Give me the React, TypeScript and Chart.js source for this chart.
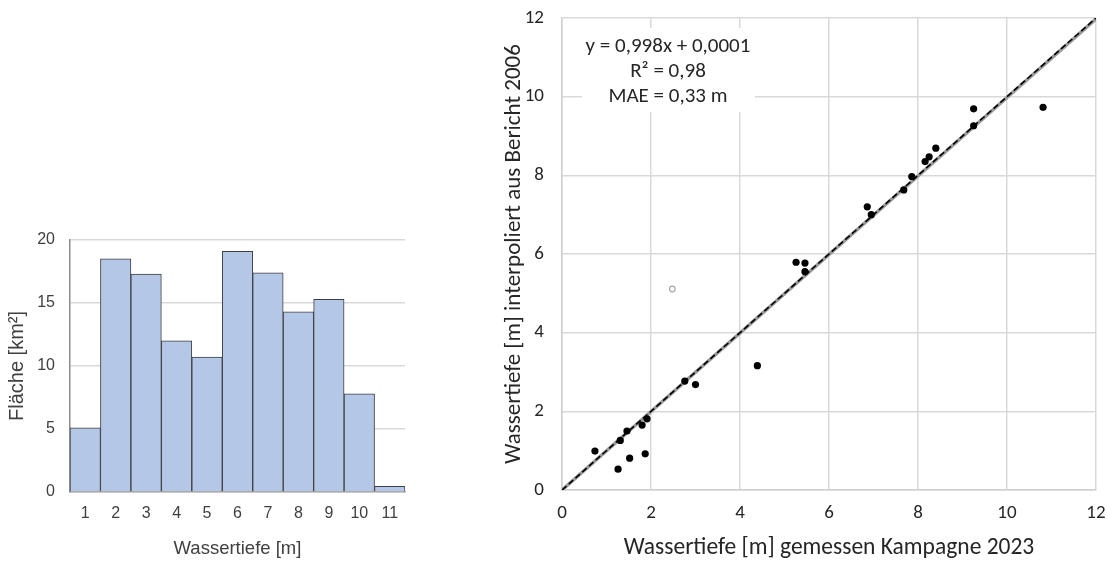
import React, { useEffect, useRef } from 'react';
import { Chart, registerables } from 'chart.js';

Chart.register(...registerables);

// ---------- Histogram data ----------
const depthBins = ['1', '2', '3', '4', '5', '6', '7', '8', '9', '10', '11'];
const areaKm2 = [5.1, 18.5, 17.3, 12.0, 10.7, 19.1, 17.4, 14.3, 15.3, 7.8, 0.45];

// ---------- Scatter data ----------
const measured2023 = [
  0.74, 1.26, 1.31, 1.46, 1.52, 1.80, 1.87, 1.91, 2.76, 3.0, 4.39,
  5.26, 5.46, 5.46, 6.86, 6.95, 7.68, 7.86, 8.16, 8.25, 8.40, 9.25, 9.25, 10.81,
];
const interpolated2006 = [
  0.99, 0.53, 1.26, 1.50, 0.81, 1.65, 0.92, 1.81, 2.77, 2.68, 3.16,
  5.79, 5.77, 5.55, 7.20, 7.00, 7.63, 7.97, 8.35, 8.47, 8.69, 9.69, 9.26, 9.73,
];
const excludedMeasured = [2.48];
const excludedInterpolated = [5.11];
const trendX = [0, 12];
const trendY = [0.0001, 11.9761];
const identityX = [0, 12];
const identityY = [0, 12];
const annotationLines = ['y = 0,998x + 0,0001', 'R² = 0,98', 'MAE = 0,33 m'];

const zip = (xs: number[], ys: number[]) => xs.map((x, i) => ({ x, y: ys[i] }));

const HIST_FONT = '"Liberation Sans", Arial, sans-serif';
const SC_FONT = 'Carlito, Calibri, Lato, sans-serif';

const noOverflow = (s: any) => {
  s.paddingTop = 0;
  s.paddingBottom = 0;
  s.paddingLeft = 0;
  s.paddingRight = 0;
};

function Histogram() {
  const ref = useRef<HTMLCanvasElement | null>(null);
  useEffect(() => {
    if (!ref.current) return;
    const chart = new Chart(ref.current, {
      type: 'bar',
      data: {
        labels: depthBins,
        datasets: [
          {
            data: areaKm2,
            backgroundColor: '#b4c7e7',
            borderColor: '#3f3f3f',
            borderWidth: 1,
            borderSkipped: 'bottom',
            barPercentage: 1,
            categoryPercentage: 1,
          },
        ],
      },
      options: {
        animation: false,
        responsive: false,
        layout: { padding: { top: 20, right: 15, left: 0, bottom: 0 } },
        plugins: { legend: { display: false }, tooltip: { enabled: false } },
        scales: {
          x: {
            grid: { display: false, drawTicks: false },
            border: { display: true, color: '#a6a6a6', width: 1.5 },
            ticks: { color: '#404040', font: { family: HIST_FONT, size: 16 }, padding: 12, maxRotation: 0 },
            title: {
              display: true,
              text: 'Wassertiefe [m]',
              color: '#404040',
              font: { family: HIST_FONT, size: 18.5 },
              padding: { top: 4, bottom: 5 },
            },
            afterFit: (s: any) => {
              s.height = 73;
              noOverflow(s);
            },
          },
          y: {
            min: 0,
            max: 20,
            ticks: { stepSize: 5, color: '#404040', font: { family: HIST_FONT, size: 16 }, padding: 15 },
            grid: { color: '#d9d9d9', lineWidth: 1.5, drawTicks: false },
            border: { display: true, color: '#8c8c8c', width: 1.5 },
            title: {
              display: true,
              text: 'Fläche [km²]',
              color: '#404040',
              font: { family: HIST_FONT, size: 20 },
              padding: { top: 5, bottom: 4 },
            },
            afterFit: (s: any) => {
              s.width = 70;
              noOverflow(s);
            },
          },
        },
      },
    });
    return () => chart.destroy();
  }, []);
  return <canvas ref={ref} width={420} height={345} style={{ position: 'absolute', left: 0, top: 220 }} />;
}

const annotationPlugin = {
  id: 'fitAnnotation',
  beforeDatasetsDraw(chart: any) {
    const { ctx, chartArea } = chart;
    const cx = chartArea.left + 106;
    ctx.save();
    ctx.fillStyle = '#ffffff';
    ctx.fillRect(chartArea.left + 20, chartArea.top + 10, 173, 84);
    ctx.fillStyle = '#262626';
    ctx.font = `21px ${SC_FONT}`;
    ctx.textAlign = 'center';
    ctx.textBaseline = 'middle';
    annotationLines.forEach((t, i) => {
      ctx.fillText(t, cx, chartArea.top + 29 + i * 25);
    });
    ctx.restore();
  },
};

function Scatter() {
  const ref = useRef<HTMLCanvasElement | null>(null);
  useEffect(() => {
    if (!ref.current) return;
    const chart = new Chart(ref.current, {
      type: 'scatter',
      data: {
        datasets: [
          {
            data: zip(measured2023, interpolated2006),
            backgroundColor: '#000000',
            borderColor: '#000000',
            pointRadius: 3.6,
            borderWidth: 0,
          } as any,
          {
            data: zip(excludedMeasured, excludedInterpolated),
            backgroundColor: 'rgba(255,255,255,1)',
            borderColor: '#a6a6a6',
            pointRadius: 2.8,
            borderWidth: 1.2,
          },
          {
            type: 'line',
            data: zip(identityX, identityY),
            borderColor: '#000000',
            borderWidth: 1.6,
            borderDash: [6, 3],
            pointRadius: 0,
            fill: false,
          },
          {
            type: 'line',
            data: zip(trendX, trendY),
            borderColor: '#9a9a9a',
            borderWidth: 3.5,
            pointRadius: 0,
            fill: false,
          },
        ],
      },
      options: {
        animation: false,
        responsive: false,
        layout: { padding: { top: 18, right: 11, left: 0, bottom: 0 } },
        plugins: { legend: { display: false }, tooltip: { enabled: false } },
        scales: {
          x: {
            type: 'linear',
            min: 0,
            max: 12,
            ticks: { stepSize: 2, color: '#262626', font: { family: SC_FONT, size: 19 }, padding: 12 },
            grid: { color: '#d9d9d9', lineWidth: 1.5, drawTicks: false },
            border: { display: true, color: '#d0d0d0', width: 1.5 },
            title: {
              display: true,
              text: 'Wassertiefe [m] gemessen Kampagne 2023',
              color: '#262626',
              font: { family: SC_FONT, size: 23.5 },
              padding: { top: 4, bottom: 3 },
            },
            afterFit: (s: any) => {
              s.height = 75;
              noOverflow(s);
            },
          },
          y: {
            type: 'linear',
            min: 0,
            max: 12,
            ticks: { stepSize: 2, color: '#262626', font: { family: SC_FONT, size: 19 }, padding: 18 },
            grid: { color: '#d9d9d9', lineWidth: 1.5, drawTicks: false },
            border: { display: true, color: '#d0d0d0', width: 1.5 },
            title: {
              display: true,
              text: 'Wassertiefe [m] interpoliert aus Bericht 2006',
              color: '#262626',
              font: { family: SC_FONT, size: 23 },
              padding: { top: 20, bottom: 4 },
            },
            afterFit: (s: any) => {
              s.width = 82;
              noOverflow(s);
            },
          },
        },
      },
      plugins: [annotationPlugin],
    });
    return () => chart.destroy();
  }, []);
  return <canvas ref={ref} width={627} height={565} style={{ position: 'absolute', left: 480, top: 0 }} />;
}

export default function App() {
  return (
    <div style={{ position: 'absolute', left: 0, top: 0, width: 1107, height: 565, background: '#ffffff', overflow: 'hidden' }}>
      <Histogram />
      <Scatter />
    </div>
  );
}
